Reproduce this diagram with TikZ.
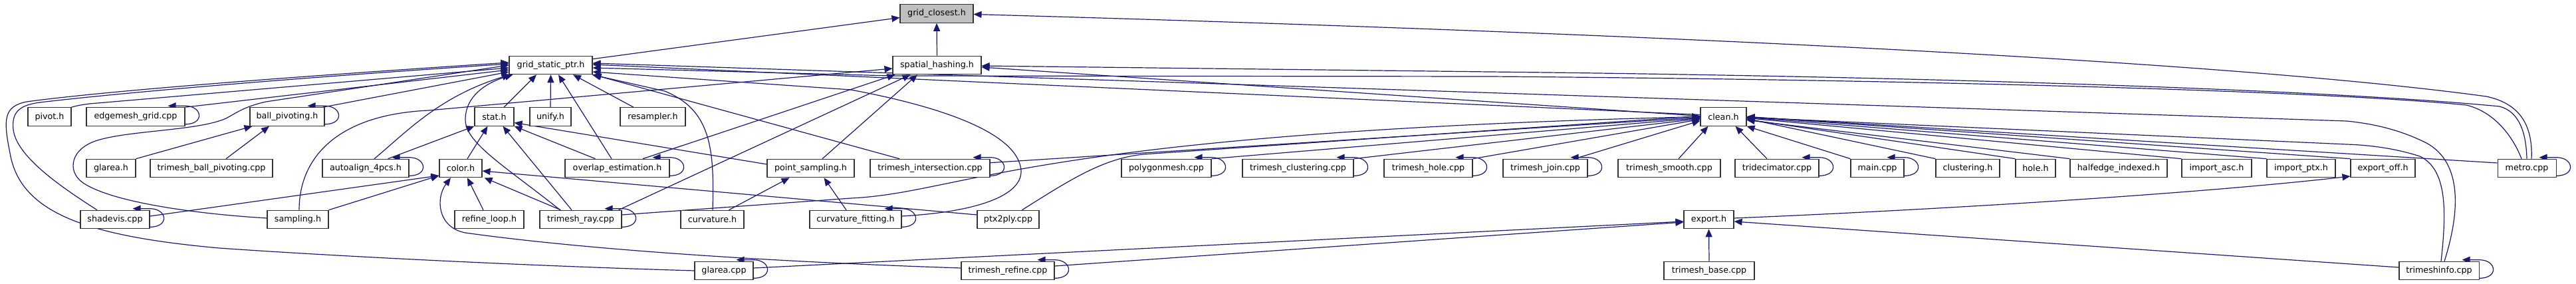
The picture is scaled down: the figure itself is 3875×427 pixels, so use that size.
\documentclass[tikz,border=0pt]{standalone}
\usepackage{fontspec}
\setmainfont{DejaVu Sans}
\usetikzlibrary{arrows.meta}
\definecolor{edgec}{RGB}{25,25,112}
\pgfdeclarelayer{bg}
\pgfsetlayers{bg,main}
\tikzset{
 filebox/.style={draw=black!80, line width=1.1pt, fill=white, minimum height=27.5pt, inner sep=0pt, font=\fontsize{12.7}{15}\selectfont},
 edge/.style={draw=edgec, line width=1.2pt, -{Triangle[length=12pt,width=10pt]}},
}
\newcommand\fnode[5]{\node[filebox,minimum width={(#4)-(#3)}] (#1) at ({((#3)+(#4))/2},#5) {#2};}
\newcommand\sloop[1]{\draw[edge] ([yshift=3pt]#1.south east) .. controls +(30,0) and +(26,0) .. ([yshift=2pt]#1.north east) -- ([xshift=-26pt,yshift=2pt]#1.north east);}
\begin{document}
\begin{tikzpicture}[x=1pt,y=-1pt]
\useasboundingbox (0,0) rectangle (3875,427);
% row 0
\node[filebox,fill=black!25,minimum width=110pt] (gc) at (1409,20.5) {grid\_closest.h};
% row 1
\fnode{gsp}{grid\_static\_ptr.h}{766}{891}{98}
\fnode{sh}{spatial\_hashing.h}{1343}{1476}{98}
% row 2
\fnode{pivot}{pivot.h}{42}{107}{175.5}
\fnode{emg}{edgemesh\_grid.cpp}{130}{278}{175.5}
\fnode{bph}{ball\_pivoting.h}{376}{488}{175.5}
\fnode{stat}{stat.h}{714}{773}{175.5}
\fnode{unify}{unify.h}{797}{859}{175.5}
\fnode{resamp}{resampler.h}{933}{1031}{175.5}
\fnode{clean}{clean.h}{2558}{2627}{175.5}
% row 3
\fnode{glareah}{glarea.h}{130}{204}{253}
\fnode{tbp}{trimesh\_ball\_pivoting.cpp}{226}{410}{253}
\fnode{auto}{autoalign\_4pcs.h}{485}{615}{253}
\fnode{color}{color.h}{661}{725}{253}
\fnode{overlap}{overlap\_estimation.h}{850}{1007}{253}
\fnode{ps}{point\_sampling.h}{1154}{1285}{253}
\fnode{tint}{trimesh\_intersection.cpp}{1309}{1489}{253}
\fnode{poly}{polygonmesh.cpp}{1687}{1822}{253}
\fnode{tclus}{trimesh\_clustering.cpp}{1869}{2036}{253}
\fnode{thole}{trimesh\_hole.cpp}{2082}{2215}{253}
\fnode{tjoin}{trimesh\_join.cpp}{2261}{2388}{253}
\fnode{tsmooth}{trimesh\_smooth.cpp}{2434}{2588}{253}
\fnode{tridec}{tridecimator.cpp}{2610}{2736}{253}
\fnode{main}{main.cpp}{2784}{2864}{253}
\fnode{clus}{clustering.h}{2912}{3008}{253}
\fnode{hole}{hole.h}{3032}{3092}{253}
\fnode{hei}{halfedge\_indexed.h}{3114}{3260}{253}
\fnode{iasc}{import\_asc.h}{3282}{3387}{253}
\fnode{iptx}{import\_ptx.h}{3410}{3513}{253}
\fnode{eoff}{export\_off.h}{3536}{3633}{253}
\fnode{metro}{metro.cpp}{3757}{3845}{253}
% row 4
\fnode{shadevis}{shadevis.cpp}{121}{225}{330}
\fnode{sampling}{sampling.h}{402}{494}{330}
\fnode{refine}{refine\_loop.h}{684}{788}{330}
\fnode{tray}{trimesh\_ray.cpp}{812}{935}{330}
\fnode{curv}{curvature.h}{1024}{1119}{330}
\fnode{cfit}{curvature\_fitting.h}{1218}{1356}{330}
\fnode{ptx2ply}{ptx2ply.cpp}{1470}{1563}{330}
\fnode{export}{export.h}{2533}{2608}{330}
% row 5
\fnode{glareacpp}{glarea.cpp}{1045}{1133}{407}
\fnode{trefine}{trimesh\_refine.cpp}{1446}{1586}{407}
\fnode{tbase}{trimesh\_base.cpp}{2503}{2639}{407}
\fnode{tinfo}{trimeshinfo.cpp}{3609}{3729}{407}

\begin{pgfonlayer}{bg}
% grid_closest
\draw[edge] ([yshift=-5pt]gsp.north east) -- ([yshift=-6pt]gc.west);
\draw[edge] (sh.north) -- (gc.south);
\draw[edge] ([xshift=7pt]metro.north) .. controls (3810,190) and (3792,156) .. (3740,145) .. controls (3300,85) and (2300,45) .. ([yshift=-1pt]gc.east);
% metro
\draw[edge] ([xshift=-8pt]metro.north) .. controls (3780,205) and (3752,168) .. (3710,158) .. controls (3500,137) and (2900,120) .. (2240,115) -- (1340,114) -- ([yshift=-4pt]gsp.east);
\draw[edge] (metro.north) .. controls (3800,200) and (3790,168) .. (3760,160) .. controls (3500,135) and (2900,115) .. (2240,108) -- ([yshift=-1pt]sh.east);
\draw[edge] ([yshift=8pt]metro.west) -- (clean.east);
% clean
\draw[edge] ([yshift=3pt]clean.west) -- ([yshift=1pt]gsp.east);
\draw[edge] ([yshift=1pt]clean.west) -- ([yshift=-3pt]sh.east);
% trimeshinfo
\draw[edge] ([xshift=8pt]tinfo.north) .. controls (3700,320) and (3705,245) .. (3650,215) .. controls (3610,195) and (3570,186) .. (3530,182) -- ([yshift=3pt]gsp.east);
\draw[edge] ([xshift=3pt]tinfo.north) .. controls (3680,320) and (3682,255) .. (3640,235) .. controls (3600,222) and (3560,218) .. (3530,217) -- ([yshift=-1pt]clean.east);
% right side into clean
\draw[edge] (clus.north west) -- ([yshift=-3pt]clean.east);
\draw[edge] (hole.north west) -- ([yshift=-4pt]clean.east);
\draw[edge] (hei.north west) -- ([yshift=-5pt]clean.east);
\draw[edge] (iasc.north west) -- ([yshift=-2pt]clean.east);
\draw[edge] (iptx.north west) -- ([yshift=-1pt]clean.east);
\draw[edge] (eoff.north west) -- (clean.east);
\draw[edge] (main.north west) -- (clean.south east);
\draw[edge] ([xshift=-15pt]tridec.north) -- ([xshift=-17pt]clean.south east);
\draw[edge] ([xshift=14pt]tsmooth.north) -- ([xshift=12pt]clean.south west);
\draw[edge] ([xshift=-20pt]tjoin.north east) -- ([yshift=-6pt]clean.west);
% left side into clean
\draw[edge] (thole.north east) -- ([yshift=-4pt]clean.west);
\draw[edge] (tclus.north east) -- ([yshift=-3pt]clean.west);
\draw[edge] (poly.north east) -- ([yshift=-2pt]clean.west);
\draw[edge] ([yshift=-6pt]tint.north east) -- ([yshift=-1pt]clean.west);
\draw[edge] ([yshift=7pt]tray.east) -- (1280,298) .. controls (1450,290) and (1550,200) .. (clean.west);
\draw[edge] ([xshift=21pt]ptx2ply.north) .. controls (1610,270) and (1660,238) .. (1720,232) -- ([yshift=1pt]clean.west);
% stat
\draw[edge] ([xshift=10pt]color.north) -- ([xshift=-10pt]stat.south);
\draw[edge] ([xshift=-13.5pt]tray.north) -- ([xshift=13pt]stat.south);
\draw[edge] ([xshift=-33pt]overlap.north) -- (stat.south east);
\draw[edge] ([yshift=6pt]ps.west) -- ([yshift=-9pt]stat.east);
\draw[edge] ([xshift=-32pt]auto.north east) -- (stat.south west);
% color
\draw[edge] ([xshift=-9pt]refine.north) -- ([xshift=10pt]color.south);
\draw[edge] ([xshift=-30pt]tray.north) -- ([xshift=3pt]color.south east);
\draw[edge] (sampling.north east) -- ([yshift=-11pt]color.west);
\draw[edge] ([yshift=5pt]shadevis.east) -- ([yshift=-11pt]color.west);
\draw[edge] ([yshift=7pt]ptx2ply.west) -- ([yshift=-4pt]color.east);
\draw[edge] ([yshift=4pt]trefine.west) .. controls (1200,395) and (900,378) .. (700,350) .. controls (658,342) and (655,298) .. ([xshift=-15pt]color.south);
% ball pivoting
\draw[edge] (glareah.north east) -- ([xshift=4pt]bph.south west);
\draw[edge] ([xshift=22pt]tbp.north) -- ([xshift=-27pt]bph.south);
% point sampling
\draw[edge] ([xshift=25pt]curv.north) -- ([xshift=-32pt]ps.south);
\draw[edge] ([xshift=-14pt]cfit.north) -- ([xshift=20pt]ps.south);
% export
\draw[edge] (tbase.north) -- (export.south);
\draw[edge] ([yshift=4pt]glareacpp.east) -- ([yshift=-3pt]export.west);
\draw[edge] ([yshift=7pt]trefine.east) -- ([yshift=-4pt]export.west);
\draw[edge] ([yshift=5pt]tinfo.west) -- ([yshift=-3pt]export.east);
\draw[edge] ([yshift=2pt]export.east) .. controls (2900,316) and (3300,292) .. ([yshift=-12pt]eoff.west);
% grid_static_ptr from left
\draw[edge] (pivot.north east) .. controls (112,160) and (118,158) .. (135,156) -- ([yshift=-4pt]gsp.west);
\draw[edge] (emg.north east) -- ([yshift=-7pt]gsp.west);
\draw[edge] ([xshift=-3pt]bph.north east) -- ([yshift=-10pt]gsp.west);
\draw[edge] (glareacpp.west) .. controls (800,400) and (500,385) .. (330,373) .. controls (130,355) and (30,320) .. (15,230) .. controls (5,180) and (5,160) .. (40,153) .. controls (150,138) and (400,118) .. ([yshift=4pt]gsp.west);
\draw[edge] ([xshift=-27pt]shadevis.north) .. controls (90,280) and (25,235) .. (20,195) .. controls (17,168) and (30,158) .. (60,154) .. controls (160,142) and (400,120) .. ([yshift=2pt]gsp.west);
\draw[edge] ([yshift=2pt]sampling.west) .. controls (300,322) and (170,305) .. (125,275) .. controls (100,258) and (105,222) .. (150,210) .. controls (200,196) and (300,196) .. (340,178) .. controls (355,170) and (368,160) .. (400,153) -- (gsp.west);
\draw[edge] ([xshift=13pt]auto.north) .. controls (610,200) and (660,145) .. ([xshift=2pt]gsp.south west);
% grid_static_ptr from below
\draw[edge] ([xshift=14.5pt]stat.north) -- ([xshift=-21.5pt]gsp.south);
\draw[edge] (unify.north) -- (gsp.south);
\draw[edge] ([xshift=-8.5pt]overlap.north) -- ([xshift=11.5pt]gsp.south);
\draw[edge] ([xshift=-29pt]resamp.north) -- ([xshift=33.5pt]gsp.south);
\draw[edge] ([xshift=-31pt]tray.north) .. controls (760,250) and (700,215) .. (700,180) .. controls (700,145) and (730,125) .. ([xshift=6pt]gsp.south west);
\draw[edge] ([xshift=0.5pt]curv.north) .. controls (1075,220) and (1068,165) .. (1000,137) -- ([xshift=-1pt]gsp.south east);
\draw[edge] ([xshift=-46pt]tint.north) -- ([xshift=1pt]gsp.south east);
\draw[edge] ([yshift=5pt]cfit.east) .. controls (1480,318) and (1545,290) .. (1535,250) .. controls (1525,205) and (1440,165) .. (1280,135) -- ([yshift=-10pt]gsp.east);
% spatial hashing
\draw[edge] ([xshift=2pt]sampling.north) .. controls (450,235) and (510,172) .. (645,166) -- ([yshift=-5pt]sh.west);
\draw[edge] ([xshift=38.5pt]overlap.north) -- ([xshift=4pt]sh.south west);
\draw[edge] ([xshift=17.5pt]ps.north) -- ([xshift=-29.5pt]sh.south);
\draw[edge] ([xshift=-5pt]tray.north east) -- ([xshift=-40pt]sh.south);
% self loops
\sloop{emg}\sloop{bph}\sloop{auto}\sloop{overlap}\sloop{tint}\sloop{poly}
\sloop{tclus}\sloop{thole}\sloop{tjoin}\sloop{tridec}\sloop{main}\sloop{metro}
\sloop{shadevis}\sloop{tray}\sloop{cfit}\sloop{glareacpp}\sloop{trefine}\sloop{tinfo}
\end{pgfonlayer}
\end{tikzpicture}
\end{document}
